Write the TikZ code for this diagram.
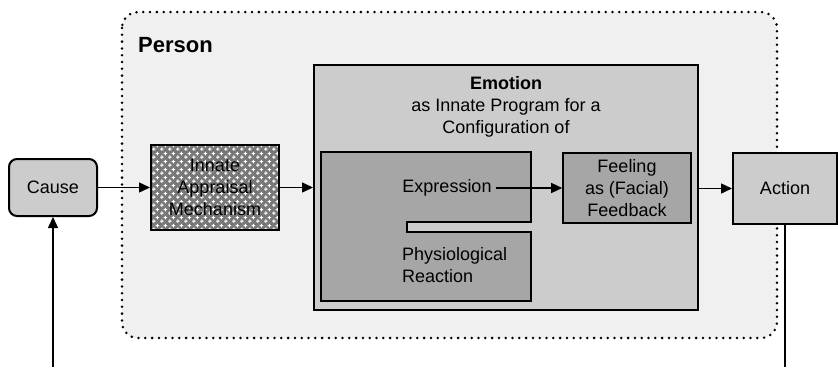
\documentclass[tikz,border=0pt]{standalone}
\usepackage{fontspec}
\setmainfont{Liberation Sans}
\usetikzlibrary{arrows.meta,patterns}

% small white pluses on a grey ground
\pgfdeclarepatternformonly{pluses}{\pgfqpoint{0pt}{0pt}}{\pgfqpoint{8pt}{8pt}}{\pgfqpoint{8pt}{8pt}}{
  \pgfsetlinewidth{1.2pt}
  \pgfpathmoveto{\pgfqpoint{0pt}{2pt}}\pgfpathlineto{\pgfqpoint{4pt}{2pt}}
  \pgfpathmoveto{\pgfqpoint{2pt}{0pt}}\pgfpathlineto{\pgfqpoint{2pt}{4pt}}
  \pgfpathmoveto{\pgfqpoint{4pt}{6pt}}\pgfpathlineto{\pgfqpoint{8pt}{6pt}}
  \pgfpathmoveto{\pgfqpoint{6pt}{4pt}}\pgfpathlineto{\pgfqpoint{6pt}{8pt}}
  \pgfusepath{stroke}}

\definecolor{personbg}{HTML}{F0F0F0}
\definecolor{lightbox}{HTML}{CCCCCC}
\definecolor{darkbox}{HTML}{A6A6A6}
\definecolor{hatchbg}{HTML}{777777}

\begin{document}
\begin{tikzpicture}[x=1pt,y=-1pt,
  every node/.style={font=\fontsize{18}{22}\selectfont, align=center, inner sep=0pt},
  box/.style={draw, line width=2pt, fill=lightbox},
  flow/.style={line width=1.4pt, -{Triangle[length=11pt,width=10pt]}},
  plain/.style={line width=1.4pt}]

\useasboundingbox (0,0) rectangle (838,367);

% person frame
\draw [fill=personbg, line width=2.8pt, line cap=round, dash pattern=on 0pt off 6.8pt, rounded corners=16]
  (122,12) rectangle (777,338);
\node [font=\fontsize{22}{26}\bfseries, anchor=west] (person) at (138,45) {Person};

% boxes
\node [box, rounded corners=8, minimum width=88, minimum height=57] (cause) at (53,187.5) {Cause};
\node [draw, line width=2pt, minimum width=128, minimum height=85,
  preaction={fill=hatchbg}, pattern=pluses, pattern color=white] (iam) at (215,187.5)
  {Innate\\Appraisal\\Mechanism};
\node [box, minimum width=384, minimum height=245] (emotion) at (506,187.5) {};
\node [anchor=north] (title) at (506,76) {\textbf{Emotion}\\as Innate Program for a\\Configuration of};

% expression and physiological reaction
\draw [line width=1.6pt, fill=darkbox] (321,152) -- (531,152) -- (531,222) -- (407,222)
  -- (407,232) -- (531,232) -- (531,301) -- (321,301) -- cycle;
\node (expr) at (447,188) {Expression};
\node [anchor=west, align=left] (physio) at (402,265) {Physiological\\Reaction};

\node [draw, line width=1.6pt, fill=darkbox, minimum width=128, minimum height=70] (feeling) at (627,188)
  {Feeling\\as (Facial)\\Feedback};
\node [box, minimum width=104, minimum height=71] (action) at (785,188.5) {Action};

% connectors
\coordinate (loopin) at (53,367);
\coordinate (loopout) at (785,367);
\draw [flow] (cause) -- (iam);
\draw [flow] (iam) -- (emotion.west |- iam);
\draw [flow] ([xshift=4pt]expr.east) -- (feeling.west |- expr);
\draw [flow] (emotion.east |- action) -- (action.west);
\draw [plain] (action.south) -- (loopout);
\draw [flow] (loopin) -- (cause.south);

\end{tikzpicture}
\end{document}
